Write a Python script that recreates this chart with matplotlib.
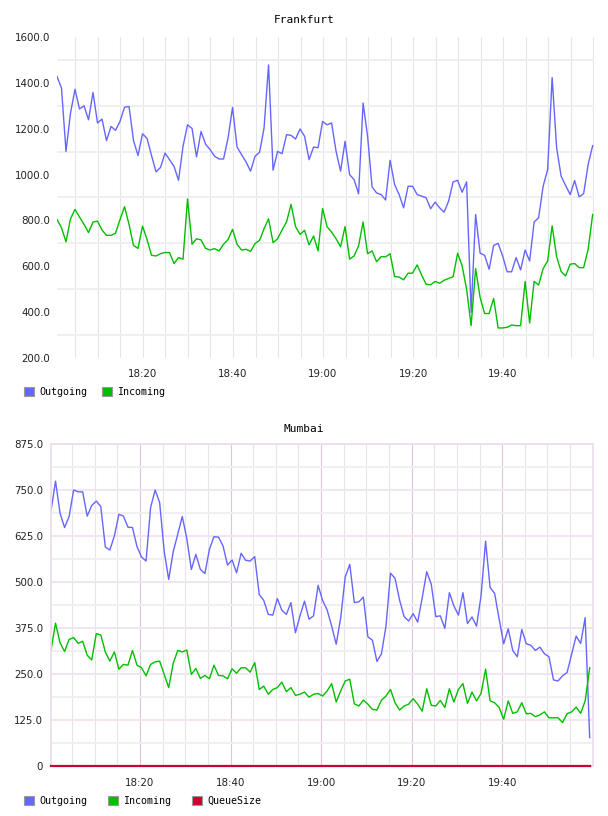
import numpy as np
import matplotlib
matplotlib.use("Agg")
import matplotlib.pyplot as plt
from matplotlib.patches import Patch
from matplotlib.ticker import FuncFormatter, MultipleLocator

# ============================================================
# DATA  (one sample per minute, minutes counted from 18:00)
# ============================================================

fra_first_sample = 0.9
fra_out = [1428, 1377, 1101, 1268, 1372, 1286, 1300, 1239, 1358, 1225,
           1242, 1148, 1210, 1193, 1232, 1294, 1297, 1148, 1083, 1178,
           1158, 1083, 1012, 1031, 1094, 1065, 1036, 975, 1123, 1217,
           1201, 1077, 1188, 1133, 1109, 1080, 1068, 1068, 1159, 1293,
           1120, 1087, 1055, 1015, 1080, 1097, 1203, 1478, 1019, 1101,
           1091, 1174, 1171, 1155, 1199, 1167, 1065, 1120, 1117, 1232,
           1217, 1225, 1101, 1015, 1145, 1000, 978, 916, 1312, 1167,
           946, 920, 913, 889, 1062, 957, 913, 855, 949, 949,
           913, 906, 899, 851, 880, 855, 836, 884, 968, 975,
           923, 968, 399, 826, 657, 648, 587, 691, 700, 645,
           576, 576, 638, 584, 671, 623, 793, 812, 949, 1022,
           1423, 1116, 993, 952, 913, 974, 903, 917, 1044, 1126]
fra_in = [804, 768, 707, 807, 848, 815, 783, 747, 793, 797,
          758, 735, 735, 744, 804, 860, 783, 691, 678, 775,
          717, 648, 645, 655, 660, 660, 612, 638, 631, 894,
          696, 720, 715, 678, 671, 677, 667, 696, 717, 761,
          696, 671, 674, 665, 699, 713, 764, 807, 703, 720,
          758, 794, 870, 773, 739, 757, 693, 732, 667, 852,
          773, 749, 720, 685, 773, 631, 645, 689, 793, 655,
          667, 620, 642, 641, 655, 555, 553, 541, 570, 570,
          606, 562, 522, 519, 534, 526, 539, 547, 554, 657,
          602, 500, 341, 590, 464, 394, 394, 460, 331, 331,
          334, 344, 341, 341, 534, 353, 534, 518, 590, 623,
          776, 642, 577, 558, 609, 612, 594, 594, 674, 826]

mum_first_sample = 0.34
mum_out = [693, 774, 687, 648, 678, 750, 745, 745, 679, 708,
           720, 705, 595, 587, 625, 684, 679, 649, 648, 596,
           568, 557, 702, 750, 716, 584, 507, 582, 630, 678,
           618, 534, 575, 534, 523, 589, 623, 622, 598, 546,
           560, 525, 578, 559, 557, 569, 466, 450, 412, 410,
           455, 423, 412, 444, 362, 408, 448, 399, 408, 491,
           450, 424, 380, 331, 403, 514, 548, 444, 446, 459,
           351, 342, 284, 305, 380, 524, 510, 451, 406, 394,
           414, 391, 457, 528, 494, 406, 408, 374, 471, 435,
           410, 471, 387, 405, 380, 462, 611, 485, 469, 399,
           332, 373, 314, 297, 371, 332, 328, 314, 323, 305,
           297, 234, 231, 245, 254, 303, 353, 333, 403, 77]
mum_in = [315, 388, 335, 311, 344, 349, 333, 339, 301, 288,
          360, 356, 310, 285, 310, 263, 276, 274, 314, 274,
          267, 245, 276, 283, 285, 249, 213, 279, 314, 310,
          315, 249, 265, 238, 246, 237, 274, 246, 245, 237,
          264, 252, 267, 267, 255, 281, 208, 217, 195, 208,
          213, 228, 202, 213, 192, 195, 201, 187, 195, 197,
          190, 204, 224, 174, 204, 231, 236, 169, 163, 179,
          168, 154, 152, 179, 190, 208, 172, 152, 163, 168,
          183, 168, 149, 210, 165, 163, 178, 159, 210, 174,
          208, 224, 170, 201, 177, 197, 263, 177, 172, 159,
          127, 177, 143, 147, 172, 142, 143, 134, 139, 147,
          131, 131, 131, 118, 142, 147, 160, 143, 177, 267]
mum_queue = [0] * len(mum_out)

fra_yticks = [200, 400, 600, 800, 1000, 1200, 1400, 1600]
mum_yticks = [0, 125, 250, 375, 500, 625, 750, 875]
time_ticks = [20, 40, 60, 80, 100]

# ============================================================
# STYLE
# ============================================================

BLUE = "#6666ff"
GREEN = "#00bf00"
RED = "#cc0033"
MONO = "DejaVu Sans Mono"


def hhmm(m, pos=None):
    m = int(round(m))
    return f"{18 + m // 60}:{m % 60:02d}"


def value_label(v, pos=None):
    return "0" if v == 0 else f"{v:.1f}"


def style_axes(ax, xpad, ypad):
    ax.xaxis.set_major_formatter(FuncFormatter(hhmm))
    ax.yaxis.set_major_formatter(FuncFormatter(value_label))
    ax.tick_params(which="both", length=0, labelsize=7.4, colors="#222222")
    ax.tick_params(axis="x", pad=xpad)
    ax.tick_params(axis="y", pad=ypad)
    ax.set_axisbelow(True)


def add_legend(labels, colors, x, y, colspace):
    handles = [Patch(facecolor=c, edgecolor="#999999", linewidth=0.8)
               for c in colors]
    fig.legend(handles, labels, loc="upper left",
               bbox_to_anchor=(x / 608, 1 - y / 816),
               bbox_transform=fig.transFigure, ncol=len(labels),
               frameon=False, borderpad=0, borderaxespad=0,
               handlelength=1.0, handleheight=1.0, handletextpad=0.5,
               columnspacing=colspace, prop={"family": MONO, "size": 7.2})


fig = plt.figure(figsize=(6.08, 8.16), dpi=100)

# ============================================================
# FRANKFURT
# ============================================================

ax1 = fig.add_axes([57 / 608, 1 - 358 / 816, 537 / 608, 321 / 816])
fra_t = fra_first_sample + np.arange(len(fra_out))
ax1.plot(fra_t, fra_out, color=BLUE, lw=1.0)
ax1.plot(fra_t, fra_in, color=GREEN, lw=1.0)
ax1.set_xlim(fra_first_sample, 120.2)
ax1.set_ylim(200, 1600)
ax1.set_yticks(fra_yticks)
ax1.set_yticks([300, 500, 700, 900, 1100, 1300, 1500], minor=True)
ax1.set_xticks(time_ticks)
ax1.xaxis.set_minor_locator(MultipleLocator(5))
ax1.grid(which="minor", axis="y", color="#efefef", lw=1.4)
ax1.grid(which="both", axis="x", color="#e6e6e6", lw=0.8)
for s in ax1.spines.values():
    s.set_visible(False)
style_axes(ax1, 8, 5)
fig.text(304 / 608, 1 - 20 / 816, "Frankfurt", ha="center", va="center",
         family=MONO, fontsize=8)
add_legend(["Outgoing", "Incoming"], [BLUE, GREEN], 24, 387, 1.5)

# ============================================================
# MUMBAI
# ============================================================

ax2 = fig.add_axes([51 / 608, 1 - 766 / 816, 542 / 608, 322 / 816])
mum_t = mum_first_sample + np.arange(len(mum_out))
ax2.plot(mum_t, mum_out, color=BLUE, lw=1.0)
ax2.plot(mum_t, mum_in, color=GREEN, lw=1.0)
ax2.plot(mum_t, mum_queue, color=RED, lw=1.6, clip_on=False, zorder=5)
ax2.set_xlim(mum_first_sample, 120.07)
ax2.set_ylim(0, 875)
ax2.set_yticks(mum_yticks)
ax2.yaxis.set_minor_locator(MultipleLocator(62.5))
ax2.set_xticks(time_ticks)
ax2.xaxis.set_minor_locator(MultipleLocator(5))
ax2.grid(which="minor", axis="y", color="#f2eff2", lw=1.4)
ax2.grid(which="major", axis="y", color="#f1e5f1", lw=1.4)
ax2.grid(which="minor", axis="x", color="#ebe3eb", lw=0.8)
ax2.grid(which="major", axis="x", color="#dcc4dc", lw=0.8)
for s in ax2.spines.values():
    s.set_color("#ecdcec")
    s.set_linewidth(1.2)
style_axes(ax2, 8.5, 5.8)
fig.text(304 / 608, 1 - 429 / 816, "Mumbai", ha="center", va="center",
         family=MONO, fontsize=8)
add_legend(["Outgoing", "Incoming", "QueueSize"], [BLUE, GREEN, RED],
           24, 796, 2.1)

fig.savefig("out.png", dpi=100)
